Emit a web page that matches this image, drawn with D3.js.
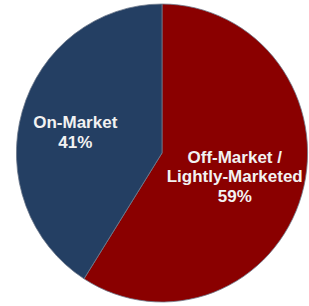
<!DOCTYPE html>
<html><head><meta charset="utf-8">
<script src="https://cdn.jsdelivr.net/npm/d3@7"></script>
<style>html,body{margin:0;padding:0;background:#fff;}svg{display:block;}</style>
</head><body>
<svg id="c" width="309" height="306"></svg>
<script>
const categories = ["Off-Market / Lightly-Marketed", "On-Market"];
const labelLines = [["Off-Market /", "Lightly-Marketed", "59%"], ["On-Market", "41%"]];
const values = [59, 41];
const colors = ["#8a0000", "#243f63"];

const svg = d3.select("#c");
const cx = 162, cy = 153, r = 149;
const g = svg.append("g").attr("transform", `translate(${cx},${cy}) scale(0.977,1)`);

const pie = d3.pie().sort(null).value(d => d)(values);
const arc = d3.arc().innerRadius(0).outerRadius(r);
g.selectAll("path").data(pie).join("path")
  .attr("d", arc)
  .attr("fill", (d, i) => colors[i])
  .attr("stroke", "#6f7a8c").attr("stroke-width", 0.8);

const labelArc = d3.arc().innerRadius(82).outerRadius(82);
const adj = [[-6, -13], [-8, -2]];
const lg = svg.append("g").attr("transform", `translate(${cx},${cy})`);
pie.forEach((d, i) => {
  const c = labelArc.centroid(d);
  const t = lg.append("text")
    .attr("text-anchor", "middle")
    .attr("font-family", "Liberation Sans, Arial, sans-serif")
    .attr("font-weight", "bold")
    .attr("font-size", 17)
    .attr("fill", "#f2f2f2");
  labelLines[i].forEach((line, k) => {
    t.append("tspan").attr("x", c[0] + adj[i][0]).attr("y", c[1] + adj[i][1] + k * 19.5).text(line);
  });
});
</script>
</body></html>
